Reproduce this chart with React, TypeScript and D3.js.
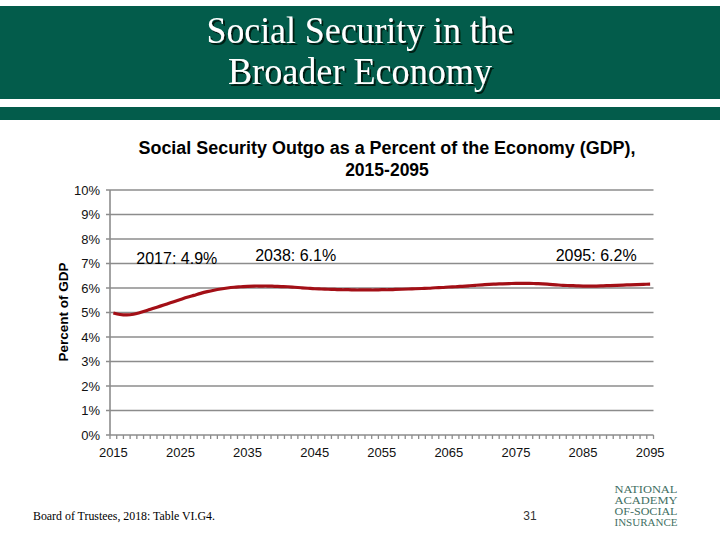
import * as d3 from "d3";

// Social Security cost as % of GDP, 2015-2095
const FIRST_YEAR = 2015;
const OUTGO = [
  4.98, 4.92, 4.9, 4.93, 5.0, 5.08, 5.17, 5.26, 5.35, 5.44,
  5.53, 5.62, 5.7, 5.78, 5.85, 5.91, 5.96, 6.0, 6.03, 6.05,
  6.07, 6.08, 6.08, 6.08, 6.07, 6.06, 6.05, 6.03, 6.01, 5.99,
  5.97, 5.96, 5.95, 5.94, 5.93, 5.93, 5.92, 5.92, 5.92, 5.92,
  5.93, 5.93, 5.94, 5.95, 5.96, 5.97, 5.98, 5.99, 6.01, 6.02,
  6.04, 6.05, 6.07, 6.09, 6.11, 6.13, 6.15, 6.16, 6.17, 6.18,
  6.19, 6.19, 6.19, 6.18, 6.17, 6.15, 6.13, 6.11, 6.1, 6.09,
  6.08, 6.08, 6.08, 6.09, 6.1, 6.11, 6.12, 6.13, 6.14, 6.15,
  6.16,
];
const YEARS = OUTGO.map((_, i) => FIRST_YEAR + i);
const X_TICK_YEARS = [2015, 2025, 2035, 2045, 2055, 2065, 2075, 2085, 2095];
const Y_TICKS = [0, 1, 2, 3, 4, 5, 6, 7, 8, 9, 10];
const CALLOUT_YEARS = [2017, 2038, 2095];
const CALLOUT_TEXT = ["2017: 4.9%", "2038: 6.1%", "2095: 6.2%"];
const LOGO_LINES = ["NATIONAL", "ACADEMY", "OF-SOCIAL", "INSURANCE"];

const GREEN = "#035C4B";
const GRID = "#8C8C8C";
const LINE = "#A30F16";
const SANS = "'Liberation Sans', Arial, sans-serif";
const SERIF = "'Liberation Serif', 'Times New Roman', serif";

// hand-placed offsets for the Excel data labels (relative to the point)
const CALLOUT_DX = [50, 28, -54];
const CALLOUT_Y = [264, 261, 261];

export default function App() {
  const W = 720;
  const H = 540;
  const m = { left: 110, right: 66.5, top: 190, bottom: 105 };
  const plotW = W - m.left - m.right;
  const plotH = H - m.top - m.bottom;

  const x = d3.scaleBand<number>().domain(YEARS).range([0, plotW]);
  const y = d3.scaleLinear().domain([0, 10]).range([plotH, 0]);
  const cx = (yr: number) => (x(yr) ?? 0) + x.bandwidth() / 2;

  const line = d3
    .line<number>()
    .x((_, i) => cx(YEARS[i]))
    .y((d) => y(d))
    .curve(d3.curveCatmullRom.alpha(0.5));

  const minorTicks = d3.range(YEARS.length + 1).map((i) => i * x.step());

  return (
    <div style={{ position: "fixed", left: 0, top: 0, width: W, height: H, background: "#fff" }}>
      <svg width={W} height={H} style={{ display: "block" }}>
        <defs>
          <filter id="hdrShadow" x="-10%" y="-30%" width="120%" height="160%">
            <feDropShadow dx={2} dy={2} stdDeviation={0.4} floodColor="#06140f" floodOpacity={0.9} />
          </filter>
        </defs>

        {/* header banner */}
        <rect x={0} y={6} width={W} height={93} fill={GREEN} />
        <rect x={0} y={107} width={W} height={13} fill={GREEN} />
        <g style={{ fontFamily: SERIF, fontSize: 37 }} fill="#fff" filter="url(#hdrShadow)">
          <text x={W / 2} y={43} textAnchor="middle" textLength={307} lengthAdjust="spacingAndGlyphs">
            Social Security in the
          </text>
          <text x={W / 2} y={84} textAnchor="middle" textLength={264} lengthAdjust="spacingAndGlyphs">
            Broader Economy
          </text>
        </g>

        {/* chart title */}
        <g style={{ fontFamily: SANS, fontSize: 17.5, fontWeight: "bold" }} fill="#000">
          <text x={387} y={154} textAnchor="middle" textLength={497} lengthAdjust="spacingAndGlyphs">
            Social Security Outgo as a Percent of the Economy (GDP),
          </text>
          <text x={387} y={176} textAnchor="middle">2015-2095</text>
        </g>

        <g transform={`translate(${m.left},${m.top})`}>
          {/* gridlines + y labels */}
          {Y_TICKS.map((t) => (
            <g key={t}>
              <line x1={-4} x2={plotW} y1={y(t)} y2={y(t)} stroke={GRID} strokeWidth={1.6} />
              <text x={-10} y={y(t)} dy="0.35em" textAnchor="end"
                style={{ fontFamily: SANS, fontSize: 13 }} fill="#111">{`${t}%`}</text>
            </g>
          ))}
          {/* axes */}
          <line x1={0} x2={0} y1={0} y2={plotH} stroke={GRID} strokeWidth={1.6} />
          {minorTicks.map((t, i) => (
            <line key={i} x1={t} x2={t} y1={plotH} y2={plotH + 4} stroke={GRID} strokeWidth={1.3} />
          ))}
          {X_TICK_YEARS.map((yr) => (
            <text key={yr} x={cx(yr)} y={plotH + 22} textAnchor="middle"
              style={{ fontFamily: SANS, fontSize: 13 }} fill="#111">{yr}</text>
          ))}

          {/* series */}
          <path d={line(OUTGO) ?? ""} fill="none" stroke={LINE} strokeWidth={3.2} strokeLinejoin="round" />

          {/* callouts */}
          {CALLOUT_YEARS.map((yr, i) => (
            <text key={yr} x={cx(yr) + CALLOUT_DX[i]} y={CALLOUT_Y[i] - m.top} textAnchor="middle"
              style={{ fontFamily: SANS, fontSize: 16 }} fill="#000">{CALLOUT_TEXT[i]}</text>
          ))}
        </g>

        {/* y axis title */}
        <text transform={`translate(68,312) rotate(-90)`} textAnchor="middle"
          style={{ fontFamily: SANS, fontSize: 13.5, fontWeight: "bold" }} fill="#000">Percent of GDP</text>

        {/* footer */}
        <text x={33} y={520} style={{ fontFamily: SERIF, fontSize: 12 }} fill="#000"
          textLength={182} lengthAdjust="spacingAndGlyphs">Board of Trustees, 2018: Table VI.G4.</text>
        <text x={530} y={520} textAnchor="middle" style={{ fontFamily: SANS, fontSize: 12 }} fill="#333">31</text>
        {LOGO_LINES.map((t, i) => (
          <text key={t} x={646} y={493 + i * 11} textAnchor="middle"
            style={{ fontFamily: SERIF, fontSize: 9.5 }} fill="#3f6f63"
            textLength={63} lengthAdjust="spacingAndGlyphs">{t}</text>
        ))}
      </svg>
    </div>
  );
}
